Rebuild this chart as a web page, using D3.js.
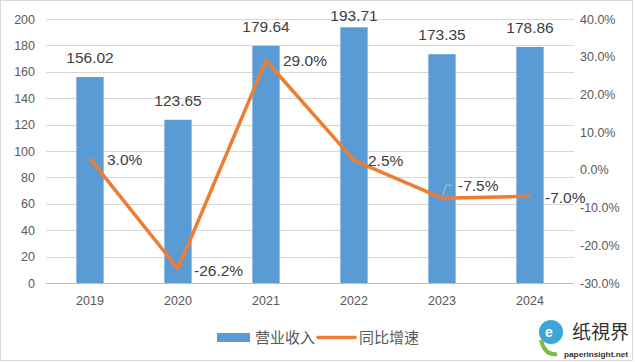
<!DOCTYPE html>
<html>
<head>
<meta charset="utf-8">
<script src="https://cdn.jsdelivr.net/npm/d3@7"></script>
<style>
  body { margin: 0; background: #fff; }
  text { font-family: "Liberation Sans", "Noto Sans CJK SC", sans-serif; }
</style>
</head>
<body>
<div id="chart"></div>
<script>
var years = ["2019", "2020", "2021", "2022", "2023", "2024"];
var revenue = [156.02, 123.65, 179.64, 193.71, 173.35, 178.86];
var growth = [3.0, -26.2, 29.0, 2.5, -7.5, -7.0];
var leftTicks = [0, 20, 40, 60, 80, 100, 120, 140, 160, 180, 200];
var rightTicks = [-30, -20, -10, 0, 10, 20, 30, 40];
var legendNames = ["营业收入", "同比增速"];

var W = 635, H = 362;
var margin = {top: 19, right: 61, bottom: 79, left: 46};
var width = W - margin.left - margin.right,
    height = H - margin.top - margin.bottom;

var svg = d3.select("#chart").append("svg")
    .attr("width", W)
    .attr("height", H);

// outer border
svg.append("rect")
    .attr("x", 0.5).attr("y", 0.5)
    .attr("width", W - 3).attr("height", H - 2)
    .style("fill", "none")
    .style("stroke", "#d9d9d9");

var g = svg.append("g")
    .attr("transform", "translate(" + margin.left + "," + margin.top + ")");

var x = d3.scaleBand().domain(years).range([0, width]).paddingInner(0.69).paddingOuter(0.345);
var y = d3.scaleLinear().domain([0, 200]).range([height, 0]);
var y2 = d3.scaleLinear().domain([-30, 40]).range([height, 0]);

// gridlines
g.selectAll(".grid").data(leftTicks).enter().append("line")
    .attr("x1", 0).attr("x2", width)
    .attr("y1", function(d) { return Math.round(y(d)) + 0.5; })
    .attr("y2", function(d) { return Math.round(y(d)) + 0.5; })
    .style("stroke", function(d) { return d === 0 ? "#bfbfbf" : "#d9d9d9"; });

// left axis
var axL = g.append("g").call(d3.axisLeft(y).tickValues(leftTicks).tickSize(0).tickPadding(11));
axL.select(".domain").remove();
axL.selectAll("text").style("font-size", "12.5px").style("fill", "#595959");

// right axis
var axR = g.append("g").attr("transform", "translate(" + width + ",0)")
    .call(d3.axisRight(y2).tickValues(rightTicks).tickSize(0).tickPadding(6)
      .tickFormat(function(d) { return d.toFixed(1) + "%"; }));
axR.select(".domain").remove();
axR.selectAll("text").style("font-size", "12.5px").style("fill", "#595959");

// bottom axis
var axB = g.append("g").attr("transform", "translate(0," + height + ")")
    .call(d3.axisBottom(x).tickSize(0).tickPadding(13));
axB.select(".domain").remove();
axB.selectAll("text").style("font-size", "12.5px").style("fill", "#595959");

// bars
g.selectAll(".bar").data(revenue).enter().append("rect")
    .attr("x", function(d, i) { return x(years[i]); })
    .attr("y", function(d) { return y(d); })
    .attr("width", x.bandwidth())
    .attr("height", function(d) { return height - y(d); })
    .style("fill", "#5B9BD5");

// labels above bars (kept inside the plot top like excel does)
g.selectAll(".barlabel").data(revenue).enter().append("text")
    .attr("x", function(d, i) { return x(years[i]) + x.bandwidth() / 2; })
    .attr("y", function(d) { return Math.max(y(d) - 14, 2); })
    .attr("text-anchor", "middle")
    .style("font-size", "15.5px")
    .style("fill", "#404040")
    .text(function(d) { return d.toFixed(2); });

// line
var line = d3.line()
    .x(function(d, i) { return x(years[i]) + x.bandwidth() / 2; })
    .y(function(d) { return y2(d); });

g.append("path")
    .datum(growth)
    .style("fill", "none")
    .style("stroke", "#ED7D31")
    .style("stroke-width", 3.5)
    .style("stroke-linejoin", "round")
    .attr("d", line);

// leader line for 2023 label
var cx23 = x(years[4]) + x.bandwidth() / 2;
g.append("path")
    .attr("d", "M" + (cx23 + 1) + "," + (y2(growth[4]) - 3) + "L" + (cx23 + 4) + "," + (y2(growth[4]) - 13) + "L" + (cx23 + 10) + "," + (y2(growth[4]) - 13))
    .style("fill", "none")
    .style("stroke", "#bfbfbf")
    .style("stroke-width", 1);

var lblOff = [[17, 6], [16, 7], [17, 6], [14, 6], [16, -7], [15, 7]];
g.selectAll(".linelabel").data(growth).enter().append("text")
    .attr("x", function(d, i) { return x(years[i]) + x.bandwidth() / 2 + lblOff[i][0]; })
    .attr("y", function(d, i) { return y2(d) + lblOff[i][1]; })
    .style("font-size", "15.5px")
    .style("fill", "#404040")
    .text(function(d) { return d.toFixed(1) + "%"; });

// legend
var lg = svg.append("g").attr("transform", "translate(217,337)");
lg.append("rect").attr("x", 0).attr("y", -4).attr("width", 33).attr("height", 9).style("fill", "#5B9BD5");
lg.append("text").attr("x", 38).attr("y", 6).style("font-size", "15px").style("fill", "#595959").text(legendNames[0]);
lg.append("line").attr("x1", 101).attr("x2", 138).attr("y1", 0.5).attr("y2", 0.5)
    .style("stroke", "#ED7D31").style("stroke-width", 3.5).style("stroke-linecap", "round");
lg.append("text").attr("x", 142).attr("y", 6).style("font-size", "15px").style("fill", "#595959").text(legendNames[1]);

// watermark
var wm = svg.append("g").attr("transform", "translate(535,312)");
wm.append("circle").attr("cx", 16).attr("cy", 20).attr("r", 12).style("fill", "#3aa7d8");
wm.append("path").attr("d", "M6,28 Q10,44 22,42").style("fill", "none").style("stroke", "#7dbb42").style("stroke-width", 4);
wm.append("text").attr("x", 10).attr("y", 25).style("font-size", "14px").style("fill", "#fff").style("font-weight", "bold").text("e");
wm.append("text").attr("x", 37).attr("y", 27).style("font-size", "19px").style("fill", "#333").style("font-family", "Noto Sans CJK SC").text("纸視界");
wm.append("text").attr("x", 29).attr("y", 45).attr("textLength", 64).attr("lengthAdjust", "spacingAndGlyphs")
    .style("font-size", "8px").style("fill", "#333").style("font-weight", "bold").text("paperinsight.net");
</script>
</body>
</html>
